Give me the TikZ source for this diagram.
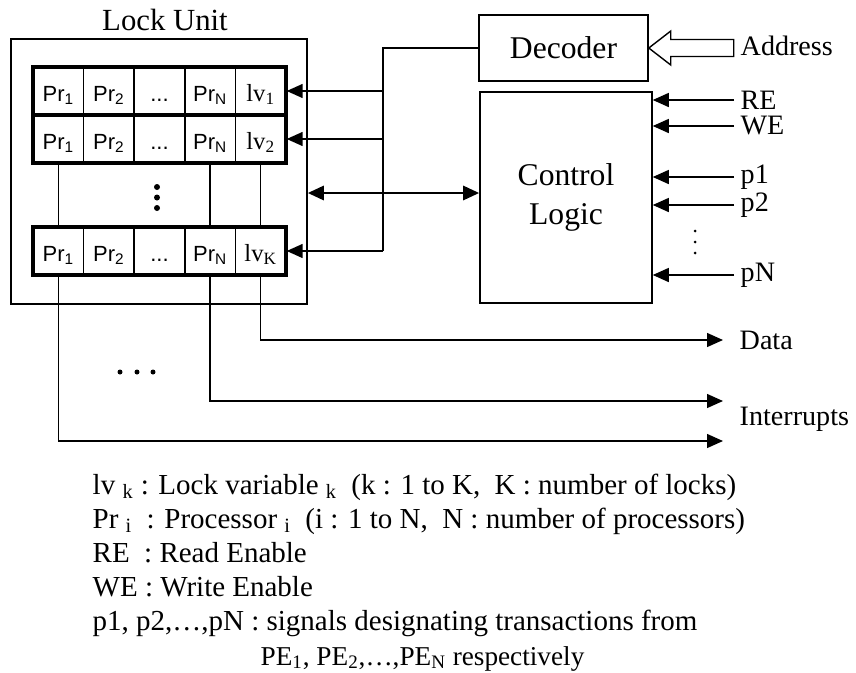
\documentclass[tikz,border=0pt]{standalone}
\usepackage{fontspec}
\setmainfont{Liberation Serif}
\newfontfamily\cellfont{Liberation Sans}
\usetikzlibrary{arrows.meta, positioning}

\tikzset{
  box/.style={draw, line width=0.9pt, inner sep=0pt},
  cell/.style={draw, line width=0.8pt, minimum width=1.012cm, minimum height=0.96cm, inner sep=0pt,
    text height=0.46cm, text depth=0.06cm},
  prcell/.style={cell, font=\cellfont\fontsize{12.5}{14}\selectfont},
  lvcell/.style={cell, font=\fontsize{14}{16}\selectfont},
  rowbox/.style={draw, line width=1.9pt, minimum width=5.06cm, minimum height=0.96cm},
  siglabel/.style={anchor=west, inner sep=0.12cm, font=\fontsize{16}{18}\selectfont},
}

\begin{document}
\begin{tikzpicture}[x=0.02cm, y=-0.02cm, line width=0.8pt, >={Triangle[length=0.32cm, width=0.28cm]}]
	\useasboundingbox (0,0) rectangle (856,673);

	% lock unit
	\node[box, minimum width=5.92cm, minimum height=5.3cm] (lockunit) at (159,171.5) {};
	\node[font=\fontsize{17.5}{20}\selectfont] (lockunittitle) at (165,20) {Lock Unit};

	\foreach \r/\y in {1/91, 2/139, K/251} {
		\node[prcell] (cell-\r-1) at (58.3,\y) {Pr\textsubscript{1}};
		\node[prcell] (cell-\r-2) at (108.9,\y) {Pr\textsubscript{2}};
		\node[prcell] (cell-\r-3) at (159.5,\y) {...};
		\node[prcell] (cell-\r-4) at (210.1,\y) {Pr\textsubscript{N}};
		\node[lvcell] (cell-\r-5) at (260.7,\y) {lv\textsubscript{\r}};
		\node[rowbox] (row-\r) at (159.5,\y) {};
	}
	\foreach \c in {1,4,5}
		\draw (cell-2-\c.south) -- (cell-K-\c.north);
	\foreach \y in {187,197.5,208}
		\fill (157,\y) circle (0.06cm);

	% outputs
	\coordinate (dataout) at (723,340);
	\coordinate (intout1) at (723,401);
	\coordinate (intout2) at (723,441);
	\draw[->] (cell-K-5.south) |- (dataout);
	\draw[->] (cell-K-4.south) |- (intout1);
	\draw[->] (cell-K-1.south) |- (intout2);
	\node[siglabel, right=0.2cm of dataout] (data) {Data};
	\node[siglabel] (interrupts) at (733,419) {Interrupts};
	\foreach \x in {120,137,153}
		\fill (\x,372) circle (0.05cm);

	% decoder and control logic
	\node[box, minimum width=3.38cm, minimum height=1.32cm, font=\fontsize{18}{20}\selectfont] (decoder) at (563.5,48) {Decoder};
	\node[box, minimum width=3.44cm, minimum height=4.22cm, align=center, font=\fontsize{18}{22}\selectfont] (control) at (566,197.5) {Control\\Logic};

	\coordinate (bus) at (383,48);
	\draw (decoder.west) -| (cell-K-5.east -| bus);
	\foreach \r in {1,2,K}
		\draw[->] (cell-\r-5.east -| bus) -- (cell-\r-5.east);

	\coordinate (linkrow) at (400,193);
	\draw[<->, line width=1.6pt] (lockunit.east |- linkrow) -- (control.west |- linkrow);

	\foreach \sig/\y in {RE/100, WE/126, p1/177, p2/205, pN/275} {
		\node[siglabel] (in-\sig) at (734,\y) {\sig};
		\draw[->] (in-\sig.west) -- (control.east |- in-\sig.west);
	}
	\foreach \y in {231,242,253}
		\fill (695,\y) circle (0.03cm);

	% address
	\node[siglabel] (address) at (734,46) {Address};
	\draw (decoder.east) -- ++(22,17) -- ++(0,-8.5) -- ++(63,0) -- ++(0,-17) -- ++(-63,0) -- ++(0,-8.5) -- cycle;

	% legend
	\node[anchor=north west, inner sep=0pt, align=left, font=\fontsize{16.5}{19.4}\selectfont] (legend) at (92,473) {%
		lv \textsubscript{k} : Lock variable \textsubscript{k}~ (k : 1 to K,~ K : number of locks)\\
		Pr \textsubscript{i}~ : Processor \textsubscript{i}~ (i : 1 to N,~ N : number of processors)\\
		RE~ : Read Enable\\
		WE : Write Enable\\
		p1, p2,…,pN : signals designating transactions from};
	\node[anchor=base west, inner sep=0pt, font=\fontsize{15.5}{18}\selectfont] (legendcont) at (260,665)
		{PE\textsubscript{1}, PE\textsubscript{2},…,PE\textsubscript{N} respectively};
\end{tikzpicture}
\end{document}
